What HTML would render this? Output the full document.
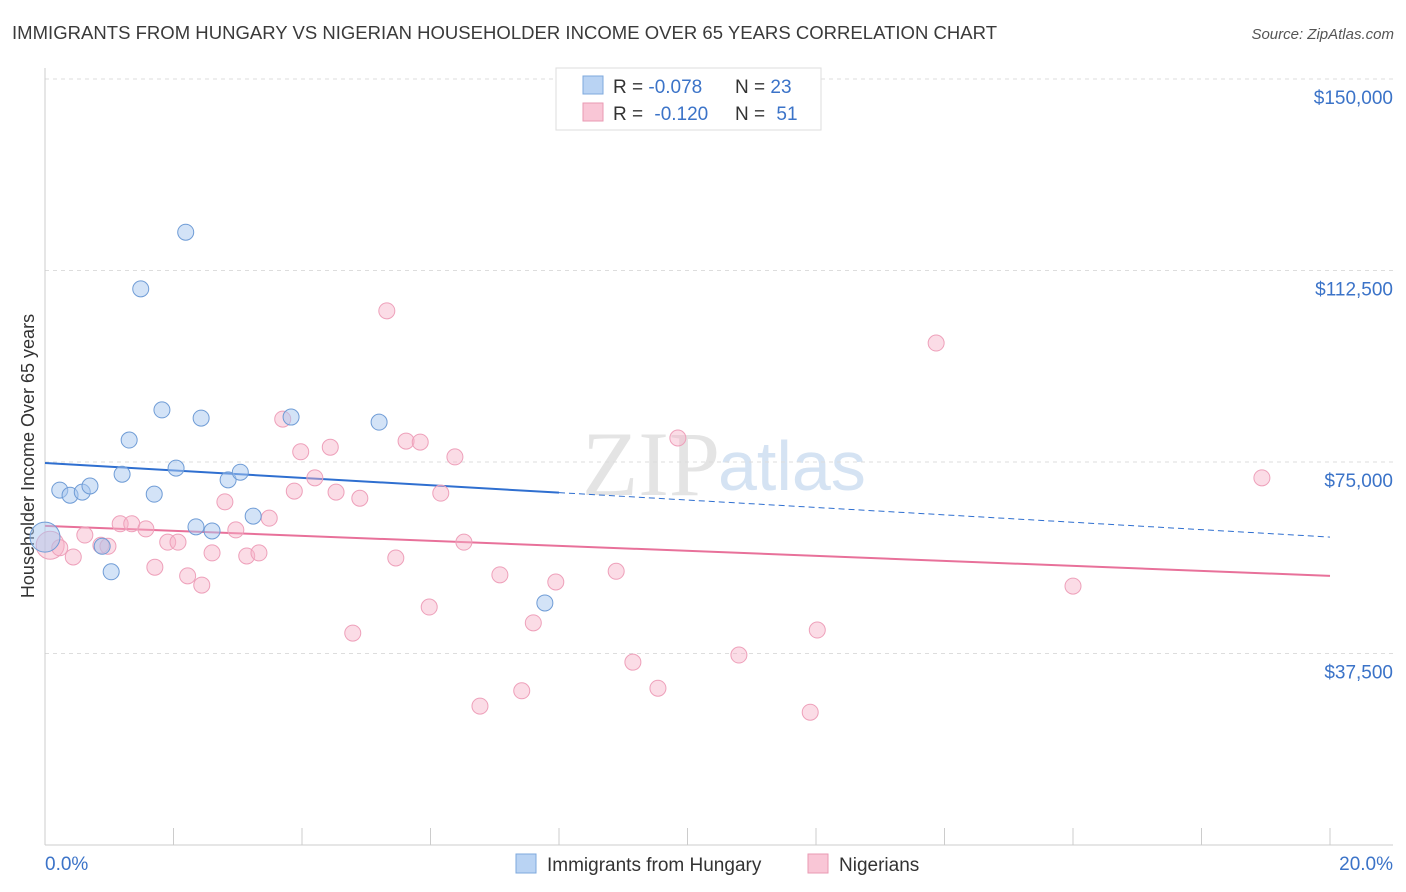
<!DOCTYPE html>
<html><head><meta charset="utf-8"><style>
body{margin:0;background:#fff;font-family:"Liberation Sans",sans-serif;}
svg{display:block}
</style></head><body>
<svg id="chart" width="1406" height="892">
<text x="12" y="39" font-size="18.5" fill="#3a3a3a" textLength="985">IMMIGRANTS FROM HUNGARY VS NIGERIAN HOUSEHOLDER INCOME OVER 65 YEARS CORRELATION CHART</text>
<text x="1394" y="39" font-size="15" fill="#555" font-style="italic" text-anchor="end">Source: ZipAtlas.com</text>
<text x="720" y="495" font-size="92" fill="#e4e4e4" text-anchor="end" font-family="Liberation Serif">ZIP</text>
<text x="718" y="490" font-size="70" fill="#d5e3f3">atlas</text>
<text transform="translate(34,456) rotate(-90)" font-size="18" fill="#333" text-anchor="middle">Householder Income Over 65 years</text>
<g id="grid"></g><g id="trend"></g><g id="dots"></g>
<g>
<rect x="556" y="68" width="265" height="62" fill="#fff" stroke="#ddd"/>
<rect x="583" y="76" width="20" height="18" fill="#b9d3f3" stroke="#7ea8dc"/>
<rect x="583" y="103" width="20" height="18" fill="#f9c6d6" stroke="#e99ab3"/>
<text x="613" y="93" font-size="19" fill="#333">R = <tspan fill="#3b73c8">-0.078</tspan><tspan x="735">N = </tspan><tspan fill="#3b73c8">23</tspan></text>
<text x="613" y="120" font-size="19" fill="#333">R = <tspan fill="#3b73c8" dx="6">-0.120</tspan><tspan x="735">N = </tspan><tspan fill="#3b73c8" dx="6">51</tspan></text>
</g>
<g>
<rect x="516" y="854" width="20" height="19" fill="#b9d3f3" stroke="#7ea8dc"/>
<text x="547" y="871" font-size="19" fill="#333">Immigrants from Hungary</text>
<rect x="808" y="854" width="20" height="19" fill="#f9c6d6" stroke="#e99ab3"/>
<text x="839" y="871" font-size="19" fill="#333">Nigerians</text>
</g>
</svg>
<script>
const yTicks=[37500,75000,112500,150000];
const yTickLabels=["$37,500","$75,000","$112,500","$150,000"];
const xTickLabels=["0.0%","20.0%"];
const hungaryX=[0.00,0.23,0.39,0.58,0.70,0.89,1.03,1.20,1.31,1.49,1.70,1.82,2.04,2.19,2.35,2.43,2.60,2.85,3.04,3.24,3.83,5.20,7.78];
const hungaryY=[60300,69500,68500,69100,70300,58500,53500,72600,79300,108900,68700,85200,73800,120000,62300,83600,61500,71500,73000,64400,83800,82800,47400];
const nigX=[0.08,0.23,0.44,0.62,0.87,0.98,1.17,1.35,1.57,1.71,1.91,2.07,2.22,2.44,2.60,2.80,2.97,3.14,3.33,3.49,3.70,3.88,3.98,4.20,4.44,4.53,4.79,4.90,5.32,5.46,5.62,5.84,5.98,6.16,6.38,6.52,6.77,7.08,7.42,7.60,7.95,8.89,9.15,9.54,9.85,10.80,11.91,12.02,13.87,16.00,18.94];
const nigY=[58700,58200,56400,60700,58700,58500,62900,62900,61900,54400,59300,59300,52700,50900,57200,67200,61700,56600,57200,64000,83400,69300,77000,71900,77900,69100,41500,67900,104600,56200,79100,78900,46600,68900,76000,59300,27200,52900,30200,43500,51500,53600,35800,30700,79700,37200,26000,42100,98300,50700,71900];
const hungaryTrend=[74800,60300];
const nigTrend=[62500,52700];
const NS="http://www.w3.org/2000/svg";
const sx=p=>45+p/20*1285;
const sy=v=>845-v/150000*766;
function mk(t,a,parent){const e=document.createElementNS(NS,t);for(const k in a)e.setAttribute(k,a[k]);parent.appendChild(e);return e;}
const grid=document.getElementById('grid'),trend=document.getElementById('trend'),dots=document.getElementById('dots');
yTicks.forEach((v,i)=>{
 const l=mk('line',{x1:45,x2:1393,y1:sy(v),y2:sy(v),stroke:'#ddd','stroke-dasharray':'4,4'},grid);
 
 
 const t=mk('text',{x:1393,y:sy(v)+25,'font-size':19,fill:'#3b73c8','text-anchor':'end'},grid);
 t.textContent=yTickLabels[i];
 
 
});
const ax=mk('line',{x1:45,x2:45,y1:68,y2:845,stroke:'#ccc'},grid);


const bx=mk('line',{x1:45,x2:1393,y1:845,y2:845,stroke:'#ccc'},grid);


for(let p=0;p<=20;p+=2){
 const tk=mk('line',{x1:sx(p),x2:sx(p),y1:828,y2:845,stroke:'#ccc'},grid);
 
 
}
[[0,'start',45],[20,'end',1393]].forEach((d,i)=>{
 const t=mk('text',{x:d[2],y:870,'font-size':19,fill:'#3b73c8','text-anchor':d[1]},grid);
 t.textContent=xTickLabels[i];
 
 
});
const hb=hungaryTrend[0],hs=(hungaryTrend[1]-hungaryTrend[0])/20;
const l1=mk('line',{x1:sx(0),y1:sy(hb),x2:sx(8),y2:sy(hb+hs*8),stroke:'#2f6fd0','stroke-width':2},trend);


const l2=mk('line',{x1:sx(8),y1:sy(hb+hs*8),x2:sx(20),y2:sy(hungaryTrend[1]),stroke:'#2f6fd0','stroke-width':1,'stroke-dasharray':'6,4'},trend);


const l3=mk('line',{x1:sx(0),y1:sy(nigTrend[0]),x2:sx(20),y2:sy(nigTrend[1]),stroke:'#e8719a','stroke-width':2},trend);


nigX.forEach((x,i)=>{
 const c=mk('circle',{cx:sx(x),cy:sy(nigY[i]),r:i==0?14:8,fill:'rgba(246,178,200,0.45)',stroke:'#eea0ba','stroke-width':1},dots);
 
 
});
hungaryX.forEach((x,i)=>{
 const c=mk('circle',{cx:sx(x),cy:sy(hungaryY[i]),r:i==0?15:8,fill:'rgba(168,200,240,0.5)',stroke:'#6f9cd6','stroke-width':1},dots);
 
 
});
</script>
</body></html>
